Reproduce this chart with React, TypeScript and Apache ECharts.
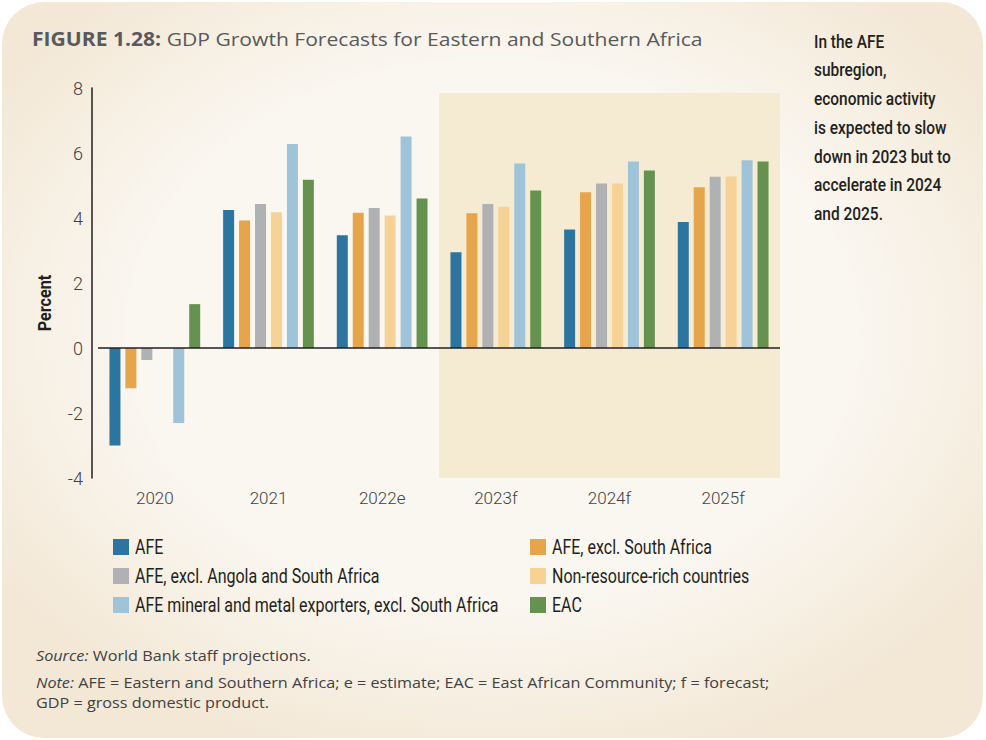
import React, { useEffect, useRef } from "react";
import * as echarts from "echarts";

const categories = ["2020", "2021", "2022e", "2023f", "2024f", "2025f"];
const seriesNames = [
  "AFE",
  "AFE, excl. South Africa",
  "AFE, excl. Angola and South Africa",
  "Non-resource-rich countries",
  "AFE mineral and metal exporters, excl. South Africa",
  "EAC",
];
const afe = [-3.0, 4.25, 3.47, 2.95, 3.65, 3.88];
const afeExSA = [-1.24, 3.92, 4.16, 4.15, 4.79, 4.95];
const afeExAngolaSA = [-0.37, 4.43, 4.31, 4.43, 5.06, 5.27];
const nonResource = [null, 4.18, 4.08, 4.35, 5.06, 5.28];
const mineralExporters = [-2.31, 6.28, 6.51, 5.68, 5.74, 5.78];
const eac = [1.35, 5.18, 4.6, 4.85, 5.46, 5.74];
const seriesData = [afe, afeExSA, afeExAngolaSA, nonResource, mineralExporters, eac];
const colors = ["#2c75a0", "#e6a44b", "#b0b1b3", "#f7d296", "#9fc3d8", "#65934f"];
const yTicks = { min: -4, max: 8, interval: 2 };
const forecastStart = 3; // index of first forecast category

const narrow = "Roboto, 'Liberation Sans', sans-serif";
const sans = "'Open Sans', Lato, sans-serif";

export default function App() {
  const ref = useRef<HTMLDivElement>(null);
  useEffect(() => {
    if (!ref.current) return;
    const chart = echarts.init(ref.current, undefined, { renderer: "svg" });
    const bars = seriesNames.map((name, i) => ({
      name,
      type: "bar",
      xAxisIndex: 0,
      yAxisIndex: 0,
      data: seriesData[i],
      barWidth: 11,
      barGap: "45%",
      itemStyle: { color: colors[i] },
      z: 3,
      ...(i === 0
        ? {
            markLine: {
              silent: true,
              symbol: "none",
              label: { show: false },
              lineStyle: { color: "#231f20", width: 1.5, type: "solid" },
              data: [{ yAxis: 0 }],
              z: 5,
            },
          }
        : {}),
    }));

    const legendItems = seriesNames.map((name, i) => {
      const col = i % 2;
      const row = Math.floor(i / 2);
      return {
        type: "group",
        x: col === 0 ? 113 : 530,
        y: 539 + row * 29,
        children: [
          { type: "rect", shape: { x: 0, y: 0, width: 16, height: 16 }, style: { fill: colors[i] } },
          {
            type: "text",
            x: 22,
            y: 8,
            scaleX: 0.8,
            style: {
              text: name,
              fontFamily: narrow,
              fontSize: 20,
              fill: "#231f20",
              verticalAlign: "middle",
            },
          },
        ],
      };
    });

    chart.setOption({
      animation: false,
      backgroundColor: "transparent",
      grid: { left: 98, right: 206, top: 88, bottom: 262, containLabel: false },
      xAxis: [
        {
          type: "category",
          data: categories,
          position: "bottom",
          axisLine: { show: false, onZero: false },
          axisTick: { show: false },
          axisLabel: { color: "#414042", fontSize: 17, fontFamily: narrow, fontWeight: 300, margin: 11 },
        },
        {
          type: "value",
          min: 0,
          max: categories.length,
          show: false,
        },
      ],
      yAxis: {
        type: "value",
        min: yTicks.min,
        max: yTicks.max,
        interval: yTicks.interval,
        offset: 6,
        axisLine: { show: true, onZero: false, lineStyle: { color: "#231f20", width: 1.5 } },
        axisTick: { show: false },
        splitLine: { show: false },
        axisLabel: { color: "#414042", fontSize: 18, fontFamily: narrow, fontWeight: 300, margin: 9 },
      },
      series: [
        {
          name: "forecast-shade",
          type: "line",
          xAxisIndex: 1,
          yAxisIndex: 0,
          data: [[forecastStart, 0]],
          showSymbol: false,
          symbol: "none",
          lineStyle: { opacity: 0 },
          silent: true,
          z: 0,
          markArea: {
            silent: true,
            itemStyle: { color: "#f5ebd2" },
            data: [[{ xAxis: forecastStart, yAxis: 7.85 }, { xAxis: categories.length, yAxis: yTicks.min }]],
          },
        },
        ...bars,
      ],
      graphic: [
        ...legendItems,
        {
          type: "text",
          x: 32,
          y: 39,
          scaleX: 1.11,
          style: {
            text: "{b|FIGURE 1.28:} GDP Growth Forecasts for Eastern and Southern Africa",
            fontFamily: sans,
            fontSize: 19,
            fill: "#58595b",
            verticalAlign: "middle",
            rich: {
              b: { fontFamily: sans, fontSize: 19, fontWeight: "bold", fill: "#58595b" },
            },
          },
        },
        {
          type: "text",
          x: 814,
          y: 27,
          scaleX: 0.86,
          style: {
            text: "In the AFE\nsubregion,\neconomic activity\nis expected to slow\ndown in 2023 but to\naccelerate in 2024\nand 2025.",
            fontFamily: narrow,
            fontSize: 18,
            fontWeight: 500,
            lineHeight: 28.7,
            fill: "#231f20",
          },
        },
        {
          type: "text",
          x: 45,
          y: 303,
          rotation: Math.PI / 2,
          scaleX: 0.85,
          style: {
            text: "Percent",
            fontFamily: narrow,
            fontSize: 19,
            fontWeight: "bold",
            fill: "#231f20",
            align: "center",
            verticalAlign: "middle",
          },
        },
        {
          type: "text",
          x: 36,
          y: 648,
          scaleX: 1.08,
          style: {
            text: "{i|Source:} World Bank staff projections.",
            fontFamily: sans,
            fontSize: 15,
            fill: "#414042",
            rich: { i: { fontStyle: "italic", fontFamily: sans, fontSize: 15, fill: "#414042" } },
          },
        },
        {
          type: "text",
          x: 36,
          y: 672,
          scaleX: 1.08,
          style: {
            text:
              "{i|Note:} AFE = Eastern and Southern Africa; e = estimate; EAC = East African Community; f = forecast;\nGDP = gross domestic product.",
            fontFamily: sans,
            fontSize: 15,
            lineHeight: 20,
            fill: "#414042",
            rich: { i: { fontStyle: "italic", fontFamily: sans, fontSize: 15, fill: "#414042" } },
          },
        },
      ],
    });
    return () => chart.dispose();
  }, []);
  return (
    <div
      style={{
        position: "fixed",
        left: 0,
        top: 0,
        width: 986,
        height: 740,
        background: "#ffffff",
      }}
    >
      <div
        style={{
          position: "absolute",
          left: 2,
          top: 2,
          width: 981,
          height: 736,
          borderRadius: 42,
          background: "radial-gradient(ellipse 60% 60% at 50% 45%, #faf7f1 60%, #f3e8d6 100%)",
        }}
      />
      <div ref={ref} style={{ position: "absolute", left: 0, top: 0, width: 986, height: 740 }} />
    </div>
  );
}
